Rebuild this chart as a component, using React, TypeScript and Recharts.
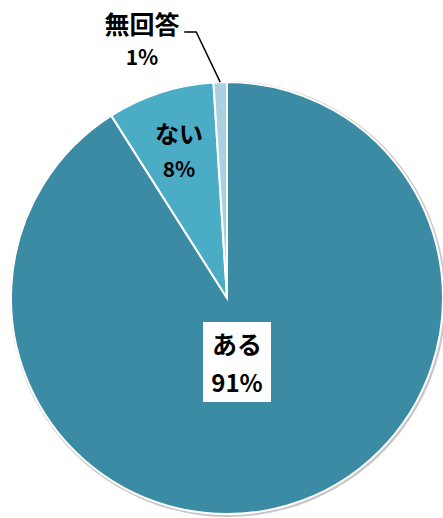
import { PieChart, Pie, Cell } from 'recharts';

const categories = ['ある', 'ない', '無回答'];
const values = [91, 8, 1];
const percentLabels = ['91%', '8%', '1%'];

const COLORS = ['#3C8BA5', '#4BACC6', '#A9D1E0'];

const data = categories.map((name, i) => ({ name, value: values[i], pct: percentLabels[i] }));
const shadowData = [{ name: 'shadow', value: 1 }];

const RAD = Math.PI / 180;
const FONT = '"Noto Sans CJK JP", "Noto Sans", sans-serif';

function renderLabel(props: any) {
  const { cx, cy, midAngle, outerRadius, index } = props;
  const entry = data[index];
  const cos = Math.cos(-midAngle * RAD);
  const sin = Math.sin(-midAngle * RAD);

  if (index === 0) {
    // big slice: boxed label a little below the centre
    const x = cx + 10;
    const y = cy + 64;
    return (
      <g>
        <rect x={x - 34} y={y - 40} width={68} height={80} fill="#fff" />
        <text x={x} y={y - 19} textAnchor="middle" dominantBaseline="central" fontSize={25} fontWeight="bold" fill="#000" fontFamily={FONT}>
          {entry.name}
        </text>
        <text x={x} y={y + 19} textAnchor="middle" dominantBaseline="central" fontSize={24} fontWeight="bold" fill="#000" fontFamily={FONT}>
          {entry.pct}
        </text>
      </g>
    );
  }

  if (index === 1) {
    const x = cx + outerRadius * 0.72 * cos;
    const y = cy + outerRadius * 0.72 * sin;
    return (
      <g>
        <text x={x} y={y - 18} textAnchor="middle" dominantBaseline="central" fontSize={24} fontWeight="bold" fill="#000" fontFamily={FONT}>
          {entry.name}
        </text>
        <text x={x} y={y + 18} textAnchor="middle" dominantBaseline="central" fontSize={21} fontWeight="bold" fill="#000" fontFamily={FONT}>
          {entry.pct}
        </text>
      </g>
    );
  }

  // small slice: leader line to a label above-left
  const px = cx + outerRadius * cos;
  const py = cy + outerRadius * sin;
  const elbowX = px - 24;
  const elbowY = 32;
  const lx = 142;
  return (
    <g>
      <path d={`M${px},${py} L${elbowX},${elbowY} L${elbowX - 12},${elbowY}`} stroke="#000" strokeWidth={1.5} fill="none" />
      <text x={lx} y={23} textAnchor="middle" dominantBaseline="central" fontSize={25} fontWeight="bold" fill="#000" fontFamily={FONT}>
        {entry.name}
      </text>
      <text x={lx} y={56} textAnchor="middle" dominantBaseline="central" fontSize={21} fontWeight="bold" fill="#000" fontFamily={FONT}>
        {entry.pct}
      </text>
    </g>
  );
}

export default function App() {
  return (
    <div style={{ position: 'absolute', left: 0, top: 0, width: 443, height: 518, background: '#fff' }}>
      <PieChart width={443} height={518} margin={{ top: 0, right: 0, bottom: 0, left: 0 }}>
        <Pie
          data={shadowData}
          cx={228}
          cy={299}
          outerRadius={218}
          dataKey="value"
          stroke="none"
          fill="#c8c8c8"
          isAnimationActive={false}
        />
        <Pie
          data={data}
          cx={227}
          cy={298}
          outerRadius={216}
          startAngle={90}
          endAngle={-270}
          dataKey="value"
          stroke="#fff"
          strokeWidth={2}
          label={renderLabel}
          labelLine={false}
          isAnimationActive={false}
        >
          {data.map((entry, index) => (
            <Cell key={`cell-${index}`} fill={COLORS[index]} />
          ))}
        </Pie>
      </PieChart>
    </div>
  );
}
